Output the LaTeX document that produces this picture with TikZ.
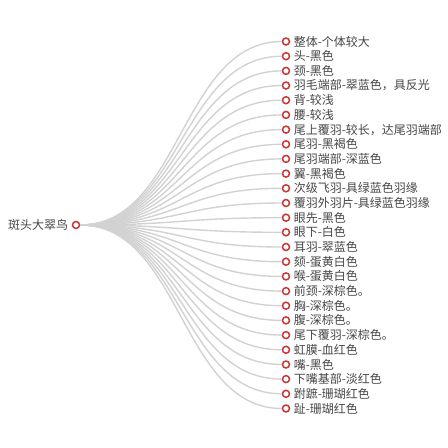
\documentclass[tikz,border=0pt]{standalone}
\usepackage{fontspec}
\setmainfont{Noto Sans CJK SC}
\definecolor{ringred}{RGB}{200,55,52}
\definecolor{twig}{RGB}{210,210,210}
\definecolor{txt}{RGB}{70,70,70}
\begin{document}
\begin{tikzpicture}[x=1pt, y=-1pt, every node/.style={font=\fontsize{12}{14}\selectfont, text=txt},
  dot/.style={circle, draw=ringred, line width=1.5pt, fill=white, inner sep=0pt, minimum size=7pt},
  edge/.style={twig, line width=1.4pt},
  bough/.style={to path={.. controls (\tikztostart -| mid) and (\tikztotarget -| mid) .. (\tikztotarget)}}]
  \useasboundingbox (0,0) rectangle (448,448);
  \coordinate (mid) at (181,0);
  % root
  \node[dot, label=left:斑头大翠鸟] (root) at (76,225) {};
  % leaves
  \node[dot, label=right:整体-个体较大] (n1) at (286,41.5) {};
  \node[dot, label=right:头-黑色] (n2) at (286,56.2) {};
  \node[dot, label=right:颈-黑色] (n3) at (286,70.9) {};
  \node[dot, label=right:{羽毛端部-翠蓝色，具反光}] (n4) at (286,85.5) {};
  \node[dot, label=right:背-较浅] (n5) at (286,100.2) {};
  \node[dot, label=right:腰-较浅] (n6) at (286,114.9) {};
  \node[dot, label=right:{尾上覆羽-较长，达尾羽端部}] (n7) at (286,129.6) {};
  \node[dot, label=right:尾羽-黑褐色] (n8) at (286,144.3) {};
  \node[dot, label=right:尾羽端部-深蓝色] (n9) at (286,158.9) {};
  \node[dot, label=right:翼-黑褐色] (n10) at (286,173.6) {};
  \node[dot, label=right:次级飞羽-具绿蓝色羽缘] (n11) at (286,188.3) {};
  \node[dot, label=right:覆羽外羽片-具绿蓝色羽缘] (n12) at (286,203.0) {};
  \node[dot, label=right:眼先-黑色] (n13) at (286,217.7) {};
  \node[dot, label=right:眼下-白色] (n14) at (286,232.3) {};
  \node[dot, label=right:耳羽-翠蓝色] (n15) at (286,247.0) {};
  \node[dot, label=right:颏-蛋黄白色] (n16) at (286,261.7) {};
  \node[dot, label=right:喉-蛋黄白色] (n17) at (286,276.4) {};
  \node[dot, label=right:前颈-深棕色。] (n18) at (286,291.1) {};
  \node[dot, label=right:胸-深棕色。] (n19) at (286,305.7) {};
  \node[dot, label=right:腹-深棕色。] (n20) at (286,320.4) {};
  \node[dot, label=right:尾下覆羽-深棕色。] (n21) at (286,335.1) {};
  \node[dot, label=right:虹膜-血红色] (n22) at (286,349.8) {};
  \node[dot, label=right:嘴-黑色] (n23) at (286,364.5) {};
  \node[dot, label=right:下嘴基部-淡红色] (n24) at (286,379.1) {};
  \node[dot, label=right:跗蹠-珊瑚红色] (n25) at (286,393.8) {};
  \node[dot, label=right:趾-珊瑚红色] (n26) at (286,408.5) {};
  % branches
  \draw[edge] (root) to[bough] (n1); \draw[edge] (root) to[bough] (n2); \draw[edge] (root) to[bough] (n3); \draw[edge] (root) to[bough] (n4);
  \draw[edge] (root) to[bough] (n5); \draw[edge] (root) to[bough] (n6); \draw[edge] (root) to[bough] (n7); \draw[edge] (root) to[bough] (n8);
  \draw[edge] (root) to[bough] (n9); \draw[edge] (root) to[bough] (n10); \draw[edge] (root) to[bough] (n11); \draw[edge] (root) to[bough] (n12);
  \draw[edge] (root) to[bough] (n13); \draw[edge] (root) to[bough] (n14); \draw[edge] (root) to[bough] (n15); \draw[edge] (root) to[bough] (n16);
  \draw[edge] (root) to[bough] (n17); \draw[edge] (root) to[bough] (n18); \draw[edge] (root) to[bough] (n19); \draw[edge] (root) to[bough] (n20);
  \draw[edge] (root) to[bough] (n21); \draw[edge] (root) to[bough] (n22); \draw[edge] (root) to[bough] (n23); \draw[edge] (root) to[bough] (n24);
  \draw[edge] (root) to[bough] (n25); \draw[edge] (root) to[bough] (n26);
\end{tikzpicture}
\end{document}
